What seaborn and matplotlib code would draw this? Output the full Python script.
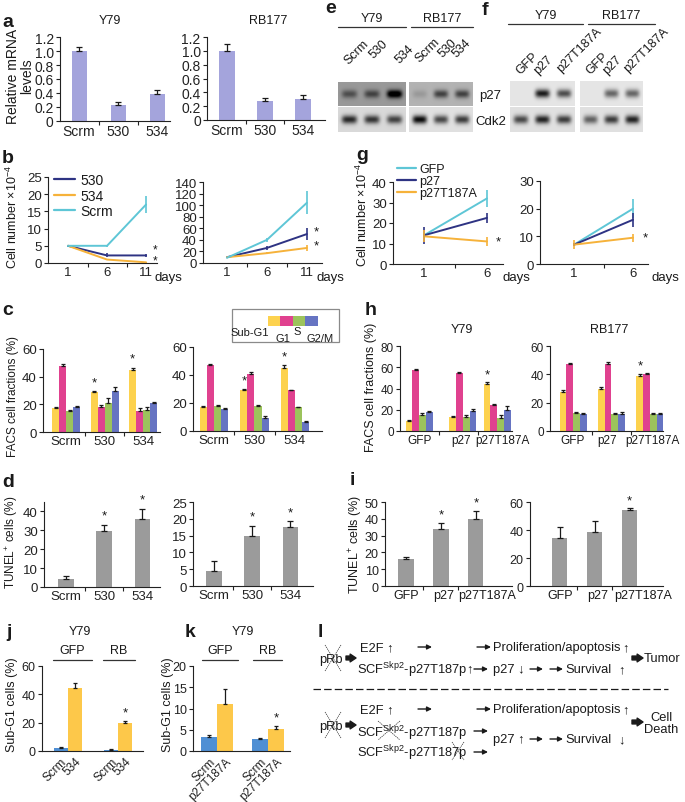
import numpy as np
import pandas as pd
import matplotlib
matplotlib.use('Agg')
import matplotlib.pyplot as plt
from matplotlib.lines import Line2D
from matplotlib.patches import Rectangle
import seaborn as sns

# ---------------- datos ----------------
a_cats = ['Scrm', '530', '534']
a_y79 = [1.0, 0.23, 0.38]
a_y79_err = [0.06, 0.04, 0.06]
a_rb177 = [1.0, 0.28, 0.30]
a_rb177_err = [0.10, 0.04, 0.06]

b_days = [1, 6, 11]
b_lines = ['530', '534', 'Scrm']
b_y79 = [[5.0, 2.2, 2.2], [5.0, 1.0, 0.2], [5.0, 5.0, 17.0]]
b_y79_err = [[0.3, 0.6, 0.4], [0.2, 0.2, 0.2], [0.3, 0.3, 2.5]]
b_rb177 = [[10, 26, 50], [10, 17, 26], [9, 40, 104]]
b_rb177_err = [[1, 3, 10], [1, 2, 5], [1, 4, 20]]

phases = ['Sub-G1', 'G1', 'S', 'G2/M']
c_cats = ['Scrm', '530', '534']
c_y79 = [[17, 48, 15, 18], [29, 18, 21, 30], [45, 15, 16, 21]]
c_y79_err = [[0.8, 1.0, 0.6, 0.6], [0.6, 1.2, 3.5, 2.5], [1.5, 2.0, 2.0, 1.0]]
c_rb177 = [[17, 47, 18, 15.5], [29, 41, 18, 9.5], [45, 29, 17, 6.5]]
c_rb177_err = [[0.6, 1.0, 0.5, 0.6], [1.0, 1.5, 0.5, 1.5], [2.0, 0.3, 0.5, 0.5]]

d_cats = ['Scrm', '530', '534']
d_y79 = [4.5, 29.5, 36]
d_y79_err = [1.2, 3.5, 5.5]
d_rb177 = [4.5, 15, 17.5]
d_rb177_err = [2.8, 3.0, 1.7]

e_lanes = ['Scrm', '530', '534']
e_p27_y79 = [0.30, 0.35, 0.75]
e_cdk2_y79 = [0.70, 0.65, 0.60]
e_p27_rb177 = [0.10, 0.45, 0.45]
e_cdk2_rb177 = [0.85, 0.60, 0.65]

f_lanes = ['GFP', 'p27', 'p27T187A']
f_p27_y79 = [0.0, 0.80, 0.60]
f_cdk2_y79 = [0.60, 0.75, 0.65]
f_p27_rb177 = [0.0, 0.50, 0.50]
f_cdk2_rb177 = [0.50, 0.65, 0.75]

g_days = [1, 6]
g_lines = ['GFP', 'p27', 'p27T187A']
g_y79 = [[14, 32], [14, 22.5], [13.5, 11]]
g_y79_err = [[0.5, 4.0], [4.2, 2.5], [3.0, 2.0]]
g_rb177 = [[7, 20], [7, 16], [7, 9.5]]
g_rb177_err = [[0.5, 3.5], [0.5, 2.5], [1.5, 1.5]]

h_cats = ['GFP', 'p27', 'p27T187A']
h_y79 = [[9.5, 57, 15, 17.5], [13.5, 55, 13, 19], [44, 24.5, 12, 19.5]]
h_y79_err = [[1, 1, 2, 1.5], [1, 1, 2, 1.5], [2, 1, 3, 4]]
h_rb177 = [[27.5, 47, 12.5, 12], [29.5, 47.5, 12, 12], [39, 40, 12, 12]]
h_rb177_err = [[1.5, 1, 1, 1], [1.5, 1.5, 1, 1.5], [1.5, 1, 1, 0.5]]

i_cats = ['GFP', 'p27', 'p27T187A']
i_y79 = [16, 34, 40]
i_y79_err = [1.5, 3.5, 4.5]
i_rb177 = [34, 38.5, 54]
i_rb177_err = [8.5, 8.0, 1.5]

jk_groups = ['GFP', 'RB']
j_treat = ['Scrm', '534']
j_vals = [[2, 44.5], [1, 20]]
j_err = [[0.7, 3.5], [0.3, 1.0]]
k_treat = ['Scrm', 'p27T187A']
k_vals = [[3.3, 11], [2.8, 5.2]]
k_err = [[0.5, 3.5], [0.2, 0.7]]

# ---------------- colores ----------------
LAV = '#a4a4dc'
NAVY, ORANGE, CYAN = '#2e3383', '#f6b23a', '#5ec6d6'
PHASE_COLS = ['#fdd24e', '#e0418f', '#9cc35c', '#6674c2']
GRAY = '#9b9b9b'
J_COLS = ['#4f8fd4', '#fdc84a']
INK = '#1a1a1a'

sns.set_theme(style='ticks')
plt.rcParams['font.family'] = ['Liberation Sans', 'DejaVu Sans']
plt.rcParams['mathtext.fontset'] = 'custom'
plt.rcParams['mathtext.rm'] = 'Liberation Sans'
plt.rcParams['axes.edgecolor'] = '#222222'
plt.rcParams['text.color'] = INK
plt.rcParams['xtick.color'] = '#222222'
plt.rcParams['ytick.color'] = '#222222'

W, H = 685, 803
fig = plt.figure(figsize=(W / 100, H / 100), dpi=100)

# capa de texto en pixeles
ov = fig.add_axes([0, 0, 1, 1])
ov.set_zorder(10)
ov.axis('off')


def add_ax(x0, y0, x1, y1):
    ax = fig.add_axes([x0 / W, 1 - y1 / H, (x1 - x0) / W, (y1 - y0) / H])
    sns.despine(ax=ax)
    for s in ['left', 'bottom']:
        ax.spines[s].set_linewidth(0.8)
    return ax


def style(ax, ylim, yticks, xlim, fs, ncat=None):
    ax.set_ylim(*ylim)
    ax.set_yticks(yticks)
    ax.set_xlim(*xlim)
    ax.set_xlabel('')
    ax.set_ylabel('')
    ax.tick_params(axis='y', length=3, width=0.8, labelsize=fs, pad=1.5)
    ax.tick_params(axis='x', which='major', length=0, labelsize=fs, pad=2)
    if ncat:
        ax.set_xticks(np.arange(0.5, ncat - 0.5), minor=True)
        ax.tick_params(axis='x', which='minor', length=3, width=0.8)


def simple_bars(ax, cats, vals, errs, color, width):
    df = pd.DataFrame({'cat': cats, 'val': vals})
    sns.barplot(data=df, x='cat', y='val', order=cats, color=color, width=width,
                errorbar=None, saturation=1, linewidth=0, ax=ax)
    xs = [p.get_x() + p.get_width() / 2 for p in ax.patches]
    ax.errorbar(xs, vals, yerr=[np.zeros(len(vals)), errs], fmt='none',
                ecolor=INK, elinewidth=0.9, capsize=2, capthick=0.9)
    return xs


def grouped_bars(ax, groups, hues, vals, errs, colors, width, shifts=None):
    rows = [(g, h, vals[i][j]) for i, g in enumerate(groups) for j, h in enumerate(hues)]
    df = pd.DataFrame(rows, columns=['grp', 'hue', 'val'])
    sns.barplot(data=df, x='grp', y='val', hue='hue', order=groups, hue_order=hues,
                palette=colors, width=width, errorbar=None, saturation=1, linewidth=0,
                legend=False, ax=ax)
    centers = []
    for j, cont in enumerate(list(ax.containers)):
        if shifts:
            for i, b in enumerate(cont):
                b.set_x(b.get_x() + shifts[i])
        xs = [b.get_x() + b.get_width() / 2 for b in cont]
        ys = [vals[i][j] for i in range(len(groups))]
        es = [errs[i][j] for i in range(len(groups))]
        ax.errorbar(xs, ys, yerr=[np.zeros(len(ys)), es], fmt='none',
                    ecolor=INK, elinewidth=0.9, capsize=1.5, capthick=0.9)
        centers.append(xs)
    return centers  # centers[hue][group]


def line_panel(ax, days, names, vals, errs, colors):
    rows = [(n, d, vals[i][k]) for i, n in enumerate(names) for k, d in enumerate(days)]
    df = pd.DataFrame(rows, columns=['line', 'day', 'val'])
    sns.lineplot(data=df, x='day', y='val', hue='line', hue_order=names,
                 palette=colors, legend=False, lw=1.4, ax=ax)
    for i, c in enumerate(colors):
        ax.errorbar(days, vals[i], yerr=errs[i], fmt='none', ecolor=c,
                    elinewidth=1.2, capsize=0)


def cat_labels(ax, xs, labels, shifts, fs):
    # etiquetas de categoria con desplazamiento horizontal (puntos)
    ax.set_xticks(xs)
    ax.set_xticklabels([''] * len(xs))
    for x, lab, dx in zip(xs, labels, shifts):
        ax.annotate(lab, xy=(x, 0), xycoords=ax.get_xaxis_transform(),
                    xytext=(dx, -2.5), textcoords='offset points',
                    ha='center', va='top', fontsize=fs, color=INK)


def star(ax, x, y, fs=9.5):
    ax.text(x, y, '*', ha='center', va='bottom', fontsize=fs, color=INK)


def txt(x, y, s, fs=9, **kw):
    kw.setdefault('ha', 'center')
    kw.setdefault('va', 'center')
    ov.text(x, y, s, fontsize=fs, color=INK, **kw)


def letter(x, y, s):
    ov.text(x, y, s, fontsize=14, fontweight='bold', ha='left', va='baseline', color=INK)


def blot(x0, y0, x1, y1, lanes, bg):
    h, w = int(y1 - y0) * 3, int(x1 - x0) * 3
    yy, xx = np.mgrid[0:1:h * 1j, 0:1:w * 1j]
    dark = np.full((h, w), bg)
    n = len(lanes)
    for i, v in enumerate(lanes):
        xc = (i + 0.5) / n
        dark = dark + v * np.exp(-((yy - 0.5) / 0.17) ** 2) * np.exp(-((xx - xc) / (0.34 / n)) ** 4)
    img = 1 - np.clip(dark, 0, 1)
    ov.imshow(img, cmap='gray', vmin=0, vmax=1, extent=(x0, x1, y1, y0),
              aspect='auto', interpolation='bilinear')


# ---------------- a ----------------
a_ticks = [0, 0.2, 0.4, 0.6, 0.8, 1.0, 1.2]
a_labels = ['0', '0.2', '0.4', '0.6', '0.8', '1.0', '1.2']
ax = add_ax(60, 38, 170, 122)
simple_bars(ax, a_cats, a_y79, a_y79_err, LAV, 0.39)
style(ax, (0, 1.2), a_ticks, (-0.49, 2.33), 10, 3)
ax.set_yticklabels(a_labels)
ax = add_ax(207, 38, 325, 121)
simple_bars(ax, a_cats, a_rb177, a_rb177_err, LAV, 0.42)
style(ax, (0, 1.2), a_ticks, (-0.53, 2.58), 10, 3)
ax.set_yticklabels(a_labels)
txt(110, 21, 'Y79', 9)
txt(268, 21, 'RB177', 9)
txt(20, 76, 'Relative mRNA\nlevels', 10, rotation=90, linespacing=1.0)

# ---------------- b ----------------
b_cols = [NAVY, ORANGE, CYAN]
ax = add_ax(48, 178, 157, 264)
line_panel(ax, b_days, b_lines, b_y79, b_y79_err, b_cols)
style(ax, (0, 25), [0, 5, 10, 15, 20, 25], (-1.56, 12.4), 9.5)
ax.set_xticks(b_days)
ax.set_xticks([3.5, 8.5], minor=True)
ax.tick_params(axis='x', which='minor', length=3, width=0.8)
star(ax, 12.2, 2.3, 8.5)
star(ax, 12.2, -1.0, 8.5)
handles = [Line2D([], [], color=c, lw=1.6) for c in b_cols]
ax.legend(handles, b_lines, loc='upper left', bbox_to_anchor=(54 / W, 1 - 174 / H),
          bbox_transform=fig.transFigure, frameon=False, fontsize=10, handlelength=1.5,
          handletextpad=0.4, labelspacing=0.12, borderpad=0, borderaxespad=0)
ax = add_ax(203, 183, 322, 264)
line_panel(ax, b_days, b_lines, b_rb177, b_rb177_err, b_cols)
style(ax, (0, 140), list(range(0, 141, 20)), (-2, 12.9), 9.5)
ax.set_xticks(b_days)
ax.set_xticks([3.5, 8.5], minor=True)
ax.tick_params(axis='x', which='minor', length=3, width=0.8)
star(ax, 12.2, 45)
star(ax, 12.2, 20)
txt(155, 278, 'days', 9.5, ha='left')
txt(317, 278, 'days', 9.5, ha='left')
txt(12, 217, 'Cell number \u00d710$^{\\mathregular{-4}}$', 9, rotation=90)

# ---------------- c ----------------
ax = add_ax(43, 350, 160, 433)
cen = grouped_bars(ax, c_cats, phases, c_y79, c_y79_err, PHASE_COLS, 0.73)
style(ax, (0, 60), [0, 20, 40, 60], (-0.6, 2.44), 9.5, 3)
for gi in [1, 2]:
    star(ax, cen[0][gi], c_y79[gi][0] + c_y79_err[gi][0] + 2)
ax = add_ax(193, 348, 322, 432)
cen = grouped_bars(ax, c_cats, phases, c_rb177, c_rb177_err, PHASE_COLS, 0.7)
style(ax, (0, 60), [0, 20, 40, 60], (-0.52, 2.67), 9.5, 3)
for gi in [1, 2]:
    star(ax, cen[0][gi], c_rb177[gi][0] + c_rb177_err[gi][0] + 2)
txt(13, 397, 'FACS cell fractions (%)', 8.5, rotation=90)
ov.add_patch(Rectangle((232, 310), 107, 33, fill=False, ec='#8a8a8a', lw=0.9))
for k, c in enumerate(PHASE_COLS):
    ov.add_patch(Rectangle((268 + 12.5 * k, 317), 12.5, 10, color=c, lw=0))
txt(250, 333, 'Sub-G1', 8)
txt(283, 339, 'G1', 8)
txt(297, 332, 'S', 8)
txt(320, 339, 'G2/M', 8)

# ---------------- d ----------------
ax = add_ax(44, 503, 160, 588)
xs = simple_bars(ax, d_cats, d_y79, d_y79_err, GRAY, 0.4)
style(ax, (0, 45), [0, 10, 20, 30, 40], (-0.58, 2.47), 9.5, 3)
for k in [1, 2]:
    star(ax, xs[k], d_y79[k] + d_y79_err[k] + 1.5)
ax = add_ax(193, 503, 313, 587)
xs = simple_bars(ax, d_cats, d_rb177, d_rb177_err, GRAY, 0.4)
style(ax, (0, 25), [0, 5, 10, 15, 20, 25], (-0.55, 2.6), 9.5, 3)
for k in [1, 2]:
    star(ax, xs[k], d_rb177[k] + d_rb177_err[k] + 0.8)
txt(12, 542, 'TUNEL$^{\\mathregular{+}}$ cells (%)', 8.5, rotation=90)

# ---------------- e / f (blots) ----------------
blot(338, 83, 406, 107, e_p27_y79, 0.40)
blot(338, 108, 406, 133, e_cdk2_y79, 0.15)
blot(409, 83, 473, 107, e_p27_rb177, 0.30)
blot(409, 108, 473, 133, e_cdk2_rb177, 0.12)
blot(510, 82, 575, 107, f_p27_y79, 0.10)
blot(510, 108, 575, 133, f_cdk2_y79, 0.12)
blot(580, 82, 643, 107, f_p27_rb177, 0.10)
blot(580, 108, 643, 133, f_cdk2_rb177, 0.12)
txt(479, 96, 'p27', 9.5, ha='left')
txt(475, 122, 'Cdk2', 9.5, ha='left')
for x0, x1, lab, yl in [(338, 406, 'Y79', 28), (411, 473, 'RB177', 28),
                        (508, 583, 'Y79', 25), (588, 655, 'RB177', 25)]:
    ov.plot([x0, x1], [yl, yl], color='#333333', lw=0.9)
    txt((x0 + x1) / 2, yl - 9, lab, 9)
for xl, yb, lab in [(342, 67, 'Scrm'), (367, 61, '530'), (393, 66, '534'),
                    (413, 65, 'Scrm'), (436, 60, '530'), (450, 60, '534')]:
    ov.text(xl, yb, lab, rotation=45, ha='left', va='bottom', fontsize=9, color=INK)
for xl, yb, lab in [(514, 77, 'GFP'), (532, 77, 'p27'), (555, 75, 'p27T187A'),
                    (584, 77, 'GFP'), (601, 77, 'p27'), (622, 75, 'p27T187A')]:
    ov.text(xl, yb, lab, rotation=45, ha='left', va='bottom', fontsize=9, color=INK)

# ---------------- g ----------------
g_cols = [CYAN, NAVY, ORANGE]
ax = add_ax(393, 183, 503, 265)
line_panel(ax, g_days, g_lines, g_y79, g_y79_err, g_cols)
style(ax, (0, 40), [0, 10, 20, 30, 40], (-1.46, 7.27), 9.5)
ax.set_xticks(g_days)
ax.set_xticks([3.5], minor=True)
ax.tick_params(axis='x', which='minor', length=3, width=0.8)
star(ax, 6.9, 8.2)
handles = [Line2D([], [], color=c, lw=1.6) for c in g_cols]
ax.legend(handles, g_lines, loc='upper left', bbox_to_anchor=(397 / W, 1 - 164 / H),
          bbox_transform=fig.transFigure, frameon=False, fontsize=9, handlelength=1.5,
          handletextpad=0.3, labelspacing=0.0, borderpad=0, borderaxespad=0)
ax = add_ax(540, 182, 648, 265)
line_panel(ax, g_days, g_lines, g_rb177, g_rb177_err, g_cols)
style(ax, (0, 30), [0, 10, 20, 30], (-1.9, 7.27), 9.5)
ax.set_xticks(g_days)
ax.set_xticks([3.5], minor=True)
ax.tick_params(axis='x', which='minor', length=3, width=0.8)
star(ax, 7.0, 7.4)
txt(503, 278, 'days', 9.5, ha='left')
txt(652, 278, 'days', 9.5, ha='left')
txt(362, 215, 'Cell number \u00d710$^{\\mathregular{-4}}$', 9, rotation=90)

# ---------------- h ----------------
ax = add_ax(400, 347, 512, 432)
cen = grouped_bars(ax, h_cats, phases, h_y79, h_y79_err, PHASE_COLS, 0.69, [0, 0.12, 0])
style(ax, (0, 80), [0, 20, 40, 60, 80], (-0.49, 2.38), 8.5, 3)
cat_labels(ax, [0, 1.12, 2], h_cats, [0, -1, 4], 8.5)
star(ax, cen[0][2], h_y79[2][0] + h_y79_err[2][0] + 2)
ax = add_ax(550, 347, 663, 432)
cen = grouped_bars(ax, h_cats, phases, h_rb177, h_rb177_err, PHASE_COLS, 0.7)
style(ax, (0, 60), [0, 20, 40, 60], (-0.6, 2.34), 8.5, 3)
cat_labels(ax, [0, 1, 2], h_cats, [0, -3, 2], 8.5)
star(ax, cen[0][2], h_rb177[2][0] + h_rb177_err[2][0] + 1.5)
txt(462, 330, 'Y79', 9)
txt(609, 330, 'RB177', 9)
txt(371, 387, 'FACS cell fractions (%)', 9, rotation=90)

# ---------------- i ----------------
ax = add_ax(385, 503, 512, 587)
xs = simple_bars(ax, i_cats, i_y79, i_y79_err, GRAY, 0.43)
style(ax, (0, 50), [0, 10, 20, 30, 40, 50], (-0.6, 3.03), 9, 3)
cat_labels(ax, xs, i_cats, [0, 2, 8], 9)
for k in [1, 2]:
    star(ax, xs[k], i_y79[k] + i_y79_err[k] + 1.5)
ax = add_ax(530, 503, 663, 587)
xs = simple_bars(ax, i_cats, i_rb177, i_rb177_err, GRAY, 0.43)
style(ax, (0, 60), [0, 20, 40, 60], (-0.86, 2.96), 9, 3)
cat_labels(ax, xs, i_cats, [0, 2, 10], 9)
star(ax, xs[2], i_rb177[2] + i_rb177_err[2] + 1.5)
txt(356, 544, 'TUNEL$^{\\mathregular{+}}$ cells (%)', 9, rotation=90)

# ---------------- j / k ----------------
for box, treat, vals, errs, ylim, yt, xlim, width in [
        ((42, 667, 143, 752), j_treat, j_vals, j_err, (0, 60), [0, 20, 40, 60], (-0.51, 1.49), 0.55),
        ((193, 667, 290, 752), k_treat, k_vals, k_err, (0, 20), [0, 5, 10, 15, 20], (-0.47, 1.43), 0.62)]:
    ax = add_ax(*box)
    cen = grouped_bars(ax, jk_groups, treat, vals, errs, J_COLS, width)
    style(ax, ylim, yt, xlim, 9)
    pos = sorted(cen[0] + cen[1])
    ax.set_xticks(pos)
    ax.set_xticklabels([t for g in jk_groups for t in treat], rotation=45, ha='right',
                       rotation_mode='anchor', fontsize=8.5)
    ax.tick_params(axis='x', which='major', length=0, pad=3)
    star(ax, cen[1][1], vals[1][1] + errs[1][1] + ylim[1] * 0.03)
txt(80, 632, 'Y79', 9)
txt(243, 632, 'Y79', 9)
for x0, x1, lab in [(53, 92, 'GFP'), (103, 135, 'RB'), (202, 238, 'GFP'), (253, 282, 'RB')]:
    ov.plot([x0, x1], [661, 661], color='#333333', lw=0.9)
    txt((x0 + x1) / 2, 651, lab, 9)
txt(12, 705, 'Sub-G1 cells (%)', 9, rotation=90)
txt(168, 705, 'Sub-G1 cells (%)', 9, rotation=90)

# ---------------- l (esquema) ----------------
DF = 9.3


def arrow(x0, x1, y):
    ov.annotate('', xy=(x1, y), xytext=(x0, y),
                arrowprops=dict(arrowstyle='-|>', lw=1.0, color=INK,
                                mutation_scale=7, shrinkA=0, shrinkB=0))


def fat_arrow(x0, x1, y):
    ov.annotate('', xy=(x1, y), xytext=(x0, y),
                arrowprops=dict(arrowstyle='simple,head_width=0.8,head_length=0.6,tail_width=0.4',
                                color=INK, mutation_scale=7, shrinkA=0, shrinkB=0))


def cross(x0, y0, x1, y1):
    ov.plot([x0, x1], [y0, y1], color='#333333', lw=0.5, ls=(0, (2, 1)))
    ov.plot([x1, x0], [y0, y1], color='#333333', lw=0.5, ls=(0, (2, 1)))


SCF = 'SCF$^{\\mathregular{Skp2}}$-p27T187p'
for yb in [660, 727]:
    txt(331, yb, 'pRb', DF)
    cross(325, yb - 14, 341, yb + 12)
    fat_arrow(346, 356, yb - 1)
for y in [648, 710]:
    txt(360, y, 'E2F \u2191', DF, ha='left')
    arrow(418, 432, y)
    arrow(477, 491, y)
    txt(493, y, 'Proliferation/apoptosis', DF, ha='left')
    txt(626, y, '\u2191', DF)
txt(357, 670, SCF + '\u2191', DF, ha='left')
arrow(474, 488, 670)
txt(493, 670, 'p27 \u2193', DF, ha='left')
arrow(530, 543, 670)
arrow(550, 563, 670)
txt(565, 670, 'Survival', DF, ha='left')
txt(622, 670, '\u2191', DF)
fat_arrow(632, 643, 659)
txt(644, 659, 'Tumor', DF, ha='left')
ov.plot([313, 668], [690, 690], color=INK, lw=0.9, ls=(0, (6, 2.5)))
txt(357, 733, SCF, DF, ha='left')
cross(378, 722, 400, 741)
arrow(474, 488, 732)
txt(357, 753, SCF, DF, ha='left')
cross(452, 743, 464, 761)
arrow(474, 488, 753)
txt(493, 740, 'p27 \u2191', DF, ha='left')
arrow(530, 543, 740)
arrow(550, 563, 740)
txt(565, 740, 'Survival', DF, ha='left')
txt(622, 740, '\u2193', DF)
fat_arrow(632, 643, 723)
txt(661, 724, 'Cell\nDeath', DF, linespacing=1.1)

# ---------------- letras ----------------
for x, y, s in [(2, 27, 'a'), (2, 163, 'b'), (2, 315, 'c'), (2, 487, 'd'),
                (325, 13, 'e'), (482, 15, 'f'), (356, 160, 'g'), (365, 315, 'h'),
                (350, 485, 'i'), (6, 637, 'j'), (185, 637, 'k'), (318, 637, 'l')]:
    letter(x, y, s)

ov.set_xlim(0, W)
ov.set_ylim(H, 0)

fig.savefig('out.png', dpi=100, facecolor='white')
